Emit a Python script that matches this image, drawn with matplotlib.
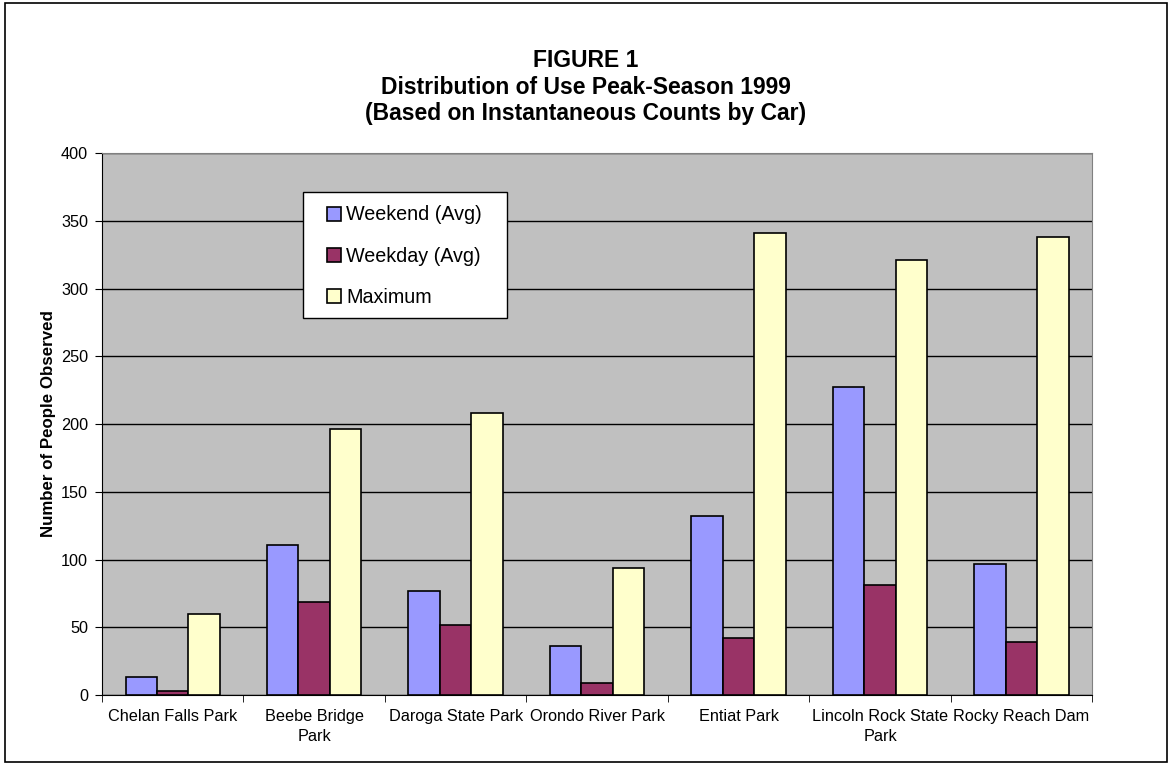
import numpy as np
import matplotlib.pyplot as plt
from matplotlib.patches import Rectangle

plt.rcParams['font.family'] = ['Liberation Sans', 'DejaVu Sans']

# data
parks = ['Chelan Falls Park', 'Beebe Bridge\nPark', 'Daroga State Park', 'Orondo River Park',
         'Entiat Park', 'Lincoln Rock State\nPark', 'Rocky Reach Dam']
weekend = [13, 111, 77, 36, 132, 227, 97]
weekday = [3, 69, 52, 9, 42, 81, 39]
maximum = [60, 196, 208, 94, 341, 321, 338]
series_names = ['Weekend (Avg)', 'Weekday (Avg)', 'Maximum']
colors = ['#9999FF', '#993366', '#FFFFCC']
title_lines = ['FIGURE 1', 'Distribution of Use Peak-Season 1999',
               '(Based on Instantaneous Counts by Car)']

W, H = 1172, 764
fig = plt.figure(figsize=(W / 100, H / 100), dpi=100)
ax = fig.add_axes([0.087, 0.0903, 0.845, 0.7094])
ax.set_facecolor('#C0C0C0')

x = np.arange(len(parks))
w = 1 / 4.5
for i, (vals, name, c) in enumerate(zip([weekend, weekday, maximum], series_names, colors)):
    ax.bar(x + (i - 1) * w, vals, width=w, color=c, edgecolor='black', linewidth=1.2,
           label=name, zorder=3)

ax.set_xlim(-0.5, len(parks) - 0.5)
ax.set_ylim(0, 400)
ax.set_yticks(np.arange(0, 401, 50))
ax.yaxis.grid(True, color='black', linewidth=1, zorder=1)
ax.set_axisbelow(True)

# category labels centered, tick marks between categories
ax.set_xticks(x)
ax.set_xticklabels(parks, fontsize=11.7, linespacing=1.45)
ax.tick_params(axis='x', length=0, pad=10)
ax.set_xticks(np.arange(-0.5, len(parks)), minor=True)
ax.tick_params(axis='x', which='minor', length=5, direction='out', color='black')
ax.tick_params(axis='y', labelsize=11.7, length=5, pad=5, direction='out')

for s in ['top', 'right']:
    ax.spines[s].set_color('#808080')
for s in ['left', 'bottom']:
    ax.spines[s].set_color('black')

ax.set_ylabel('Number of People Observed', fontsize=12.2, fontweight='bold')
ax.yaxis.set_label_coords((56 - 102) / 990, 0.5)

for line, ybase in zip(title_lines, [67, 93.5, 120]):
    fig.text(0.5, 1 - ybase / H, line, ha='center', va='baseline',
             fontsize=16.5, fontweight='bold')

# legend box (white, black frame) with frameless legend on top
ax.add_artist(Rectangle((303 / W, 1 - 318 / H), 204 / W, 126 / H, transform=fig.transFigure,
                        facecolor='white', edgecolor='black', linewidth=1, zorder=4,
                        clip_on=False))
leg = ax.legend(loc='upper left', bbox_to_anchor=(327 / W, 1 - 205.5 / H),
                bbox_transform=fig.transFigure, fontsize=14.2, frameon=False,
                labelspacing=1.13, handlelength=0.71, handleheight=0.71,
                handletextpad=0.25, borderpad=0, borderaxespad=0)
leg.set_zorder(5)

# outer chart border
fig.patches.append(Rectangle((0.004, 0.002), 0.992, 0.994, transform=fig.transFigure,
                             fill=False, edgecolor='black', linewidth=1.2))

plt.savefig('out.png', dpi=100)
